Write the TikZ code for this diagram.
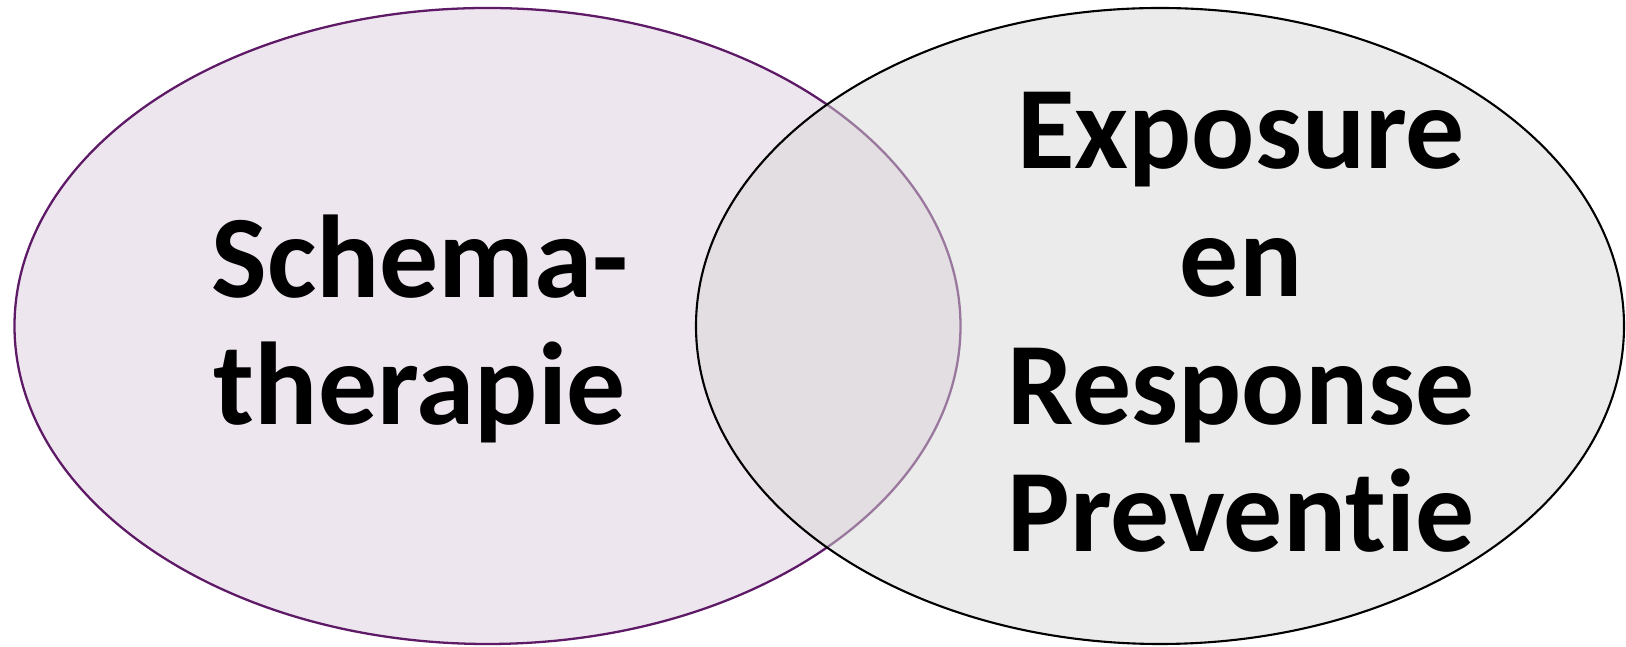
\documentclass[tikz,border=0pt]{standalone}
\usepackage{fontspec}
\setmainfont{Carlito}[Ligatures=NoCommon]
\usepackage{tikz}
\definecolor{schemafill}{HTML}{EEE6EE}
\definecolor{schemaline}{HTML}{5E1A66}
\definecolor{erpfill}{HTML}{D7D7D7}
\tikzset{bigtext/.style={font=\fontsize{67}{72.8}\selectfont\bfseries,align=center,inner sep=0pt}}

\begin{document}
\begin{tikzpicture}
\useasboundingbox (0,0) rectangle (32.52,12.94);
\filldraw[fill=schemafill,draw=schemaline,line width=1.3pt] (9.75,6.42) ellipse (9.46cm and 6.36cm);
\filldraw[fill=erpfill,fill opacity=.5,draw=black,line width=1.2pt] (23.2,6.42) ellipse (9.28cm and 6.36cm);
% base = baseline of the last line
\node[bigtext,anchor=base] (schema) at (8.4,4.44) {Schema-\\therapie};
\node[bigtext,anchor=base] (erp) at (24.82,1.9) {Exposure\\en\\Response\\Preventie};
\end{tikzpicture}
\end{document}
